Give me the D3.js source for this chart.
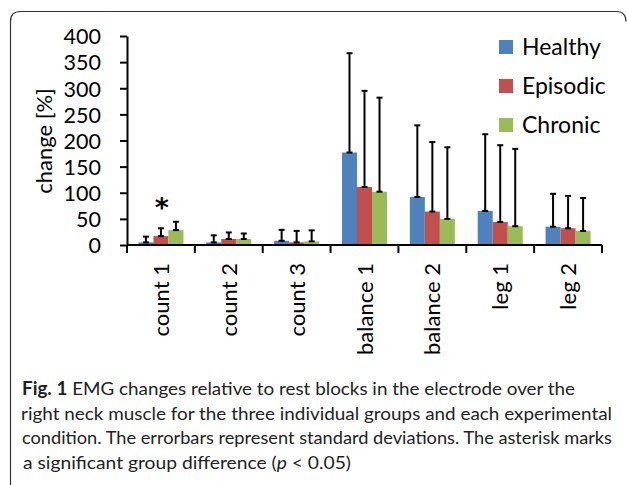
<!DOCTYPE html>
<html>
<head>
<meta charset="utf-8">
<script src="https://cdn.jsdelivr.net/npm/d3@7"></script>
<style>
  body { margin: 0; background: #fff; }
  svg { display: block; }
  .chart__axis text { font-family: Lato, "Noto Sans", sans-serif; font-size: 22px; fill: #000; }
  .chart__axis path, .chart__axis line { stroke: #000; stroke-width: 2px; }
  .caption { font-family: Lato, "Open Sans", sans-serif; font-size: 18px; fill: #222; }
</style>
</head>
<body>
<div id="chart"></div>
<script>
const categories = ['count 1', 'count 2', 'count 3', 'balance 1', 'balance 2', 'leg 1', 'leg 2'];
const groups = ['Healthy', 'Episodic', 'Chronic'];
const healthy  = [5, 5, 8, 177, 92, 65, 35];
const episodic = [17, 11.5, 5, 111, 64, 44, 32];
const chronic  = [28.5, 11.5, 7, 102, 50, 36, 27];
const healthySd  = [11, 13.5, 21, 190, 137, 147, 63];
const episodicSd = [15, 12.5, 22, 184, 133, 147, 62];
const chronicSd  = [16, 10.5, 21, 180, 137, 148, 63];
const yTicks = [0, 50, 100, 150, 200, 250, 300, 350, 400];
const colors = ['#4f81bd', '#c0504d', '#9bbb59'];
const captionLines = [
  'EMG changes relative to rest blocks in the electrode over the',
  'right neck muscle for the three individual groups and each experimental',
  'condition. The errorbars represent standard deviations. The asterisk marks',
  'a significant group difference ('
];

const width = 627, height = 485;

const svg = d3.select('#chart')
  .append('svg')
    .attr('width', width)
    .attr('height', height);

// figure frame (runs past the right and bottom edges)
svg.append('path')
  .attr('d', 'M10.5,500 V21.5 Q10.5,11.5 20.5,11.5 H616 Q626,11.5 626,21.5')
  .attr('fill', 'none')
  .attr('stroke', '#333')
  .attr('stroke-width', 1.2);

const scaleX = d3.scaleBand()
  .domain(categories)
  .range([127, 602])
  .paddingInner(0)
  .paddingOuter(0);

const scaleSub = d3.scaleBand()
  .domain(groups)
  .range([0, scaleX.bandwidth()])
  .paddingInner(0)
  .paddingOuter(0.76);

const scaleY = d3.scaleLinear()
  .domain([0, 400])
  .range([245, 36]);

const series = [
  { name: 'Healthy', values: healthy, sd: healthySd },
  { name: 'Episodic', values: episodic, sd: episodicSd },
  { name: 'Chronic', values: chronic, sd: chronicSd }
];

const rows = [];
series.forEach((s, si) => {
  categories.forEach((c, ci) => {
    rows.push({ cat: c, group: s.name, value: s.values[ci], sd: s.sd[ci], color: colors[si] });
  });
});

const plot = svg.append('g');

plot.selectAll('.chart__bar')
  .data(rows)
  .enter()
  .append('rect')
    .attr('class', 'chart__bar')
    .attr('x', d => scaleX(d.cat) + scaleSub(d.group))
    .attr('y', d => scaleY(d.value))
    .attr('width', scaleSub.bandwidth())
    .attr('height', d => scaleY(0) - scaleY(d.value))
    .attr('fill', d => d.color);

// error bars (plus direction)
const err = plot.selectAll('.chart__err')
  .data(rows)
  .enter()
  .append('g')
    .attr('class', 'chart__err')
    .attr('transform', d => `translate(${scaleX(d.cat) + scaleSub(d.group) + scaleSub.bandwidth() / 2},0)`)
    .attr('stroke', '#000')
    .attr('stroke-width', 2);

err.append('line')
  .attr('y1', d => scaleY(d.value))
  .attr('y2', d => scaleY(d.value + d.sd));
err.append('line')
  .attr('x1', -3).attr('x2', 3)
  .attr('y1', d => scaleY(d.value + d.sd))
  .attr('y2', d => scaleY(d.value + d.sd));
err.append('line')
  .attr('x1', -3).attr('x2', 3)
  .attr('y1', d => scaleY(d.value))
  .attr('y2', d => scaleY(d.value));

// y axis
const yAxis = d3.axisLeft(scaleY)
  .tickValues(yTicks)
  .tickSize(7)
  .tickPadding(19)
  .tickSizeOuter(0);

svg.append('g')
  .attr('class', 'chart__axis chart__axis--y')
  .attr('transform', 'translate(127, 0)')
  .call(yAxis)
  .call(g => g.selectAll('.tick text').attr('dy', '0.36em').style('font-size', '21.5px'));

// x axis with ticks at category boundaries
const xAxisG = svg.append('g')
  .attr('class', 'chart__axis chart__axis--x')
  .attr('transform', `translate(0, ${scaleY(0)})`);

xAxisG.append('line')
  .attr('x1', 127).attr('x2', 602);

xAxisG.selectAll('.tick-mark')
  .data(categories.concat(['end']))
  .enter()
  .append('line')
    .attr('class', 'tick-mark')
    .attr('x1', (d, i) => 127 + i * scaleX.step())
    .attr('x2', (d, i) => 127 + i * scaleX.step())
    .attr('y1', 0)
    .attr('y2', 8);

xAxisG.selectAll('.tick-label')
  .data(categories)
  .enter()
  .append('text')
    .attr('class', 'tick-label')
    .attr('text-anchor', 'end')
    .attr('transform', d => `translate(${scaleX(d) + scaleX.bandwidth() / 2 + 8}, 18) rotate(-90)`)
    .text(d => d);

// y title
svg.append('text')
  .attr('transform', 'translate(52, 141) rotate(-90)')
  .attr('text-anchor', 'middle')
  .style('font-family', 'Lato, "Noto Sans", sans-serif')
  .style('font-size', '22px')
  .text('change [%]');

// asterisk
svg.append('text')
  .attr('x', scaleX('count 1') + scaleX.bandwidth() / 2 + 1)
  .attr('y', 217)
  .attr('text-anchor', 'middle')
  .style('font-family', '"DejaVu Sans", sans-serif')
  .style('font-weight', 'bold')
  .style('font-size', '27px')
  .text('*');

// legend
const legend = svg.append('g')
  .selectAll('g')
  .data(groups)
  .enter()
  .append('g')
    .attr('transform', (d, i) => `translate(499, ${47 + i * 39})`);

legend.append('rect')
  .attr('x', 0).attr('y', -7)
  .attr('width', 14).attr('height', 14)
  .attr('fill', (d, i) => colors[i]);

legend.append('text')
  .attr('x', 23)
  .attr('dy', '0.36em')
  .style('font-family', 'Lato, "Noto Sans", sans-serif')
  .style('font-size', '23px')
  .text(d => d);

// caption
const cap = svg.append('g').attr('class', 'caption');
const lineY = [395, 420, 444, 469];

const l0 = cap.append('text').attr('x', 22).attr('y', lineY[0])
  .attr('textLength', 553).attr('lengthAdjust', 'spacingAndGlyphs');
l0.append('tspan').attr('font-weight', 'bold').text('Fig. 1');
l0.append('tspan').text(' ' + captionLines[0]);

cap.append('text').attr('x', 21).attr('y', lineY[1]).text(captionLines[1])
  .attr('textLength', 591).attr('lengthAdjust', 'spacingAndGlyphs');
cap.append('text').attr('x', 22).attr('y', lineY[2]).text(captionLines[2])
  .attr('textLength', 590).attr('lengthAdjust', 'spacingAndGlyphs');

const l3 = cap.append('text').attr('x', 23).attr('y', lineY[3])
  .attr('textLength', 328).attr('lengthAdjust', 'spacingAndGlyphs');
l3.append('tspan').text(captionLines[3]);
l3.append('tspan').attr('font-style', 'italic').text('p');
l3.append('tspan').text(' < 0.05)');
</script>
</body>
</html>
